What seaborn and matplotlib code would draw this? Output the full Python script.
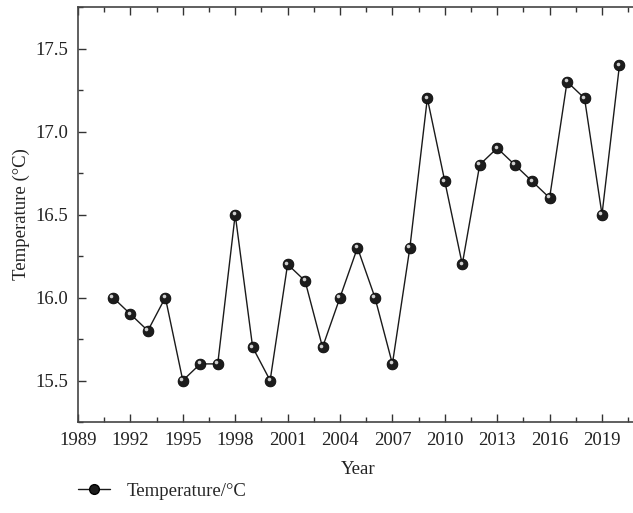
import matplotlib
matplotlib.use("Agg")
import matplotlib.pyplot as plt
import matplotlib.transforms as mtransforms
from matplotlib.ticker import MultipleLocator
from matplotlib.lines import Line2D
import seaborn as sns
import pandas as pd

years = list(range(1991, 2021))
temps = [16.0, 15.9, 15.8, 16.0, 15.5, 15.6, 15.6, 16.5, 15.7, 15.5,
         16.2, 16.1, 15.7, 16.0, 16.3, 16.0, 15.6, 16.3, 17.2, 16.7,
         16.2, 16.8, 16.9, 16.8, 16.7, 16.6, 17.3, 17.2, 16.5, 17.4]
series_name = "Temperature/°C"
df = pd.DataFrame({"Year": years, "Temp": temps})

sns.set_theme(style="ticks")
plt.rcParams['font.family'] = ['Liberation Serif', 'DejaVu Serif']
FS = 13.5
plt.rcParams['font.size'] = FS

fig = plt.figure(figsize=(6.33, 5.13), dpi=100)
ax = fig.add_axes([78/633, 91/513, 560/633, 415/513])

sns.lineplot(data=df, x="Year", y="Temp", ax=ax, color="#1a1a1a", lw=1.0,
             marker="o", markersize=7.8, markerfacecolor="#1c1c1c",
             markeredgecolor="#000000", markeredgewidth=0.5)
hl = mtransforms.offset_copy(ax.transData, fig=fig, x=-1.1, y=1.1, units='points')
ax.plot(df["Year"], df["Temp"], ls="none", marker="o", markersize=2.6,
        color="#d0d0d0", markeredgewidth=0, transform=hl)

ax.set_xlim(1989, 1989 + (638 - 78) / 52.4 * 3)
ax.set_ylim(15.25, 17.75)
ax.xaxis.set_major_locator(MultipleLocator(3))
ax.xaxis.set_minor_locator(MultipleLocator(1.5))
ax.yaxis.set_minor_locator(MultipleLocator(0.25))
ax.set_yticks([15.5, 16.0, 16.5, 17.0, 17.5])
ax.set_yticklabels(["15.5", "16.0", "16.5", "17.0", "17.5"])
ax.xaxis.set_major_formatter(matplotlib.ticker.FuncFormatter(lambda v, p: f"{int(round(v))}"))

ax.tick_params(which="major", direction="in", length=6, width=1, colors="#333333",
               labelcolor="#222222", labelsize=FS, top=True, right=False, pad=7)
ax.tick_params(which="minor", direction="in", length=3.5, width=1, colors="#333333",
               top=True, right=False)
for s in ["left", "bottom", "top"]:
    ax.spines[s].set_color("#444444")
    ax.spines[s].set_linewidth(1.2)
ax.spines["right"].set_visible(False)

ax.set_xlabel("Year", fontsize=FS, color="#222222", labelpad=9)
ax.set_ylabel("Temperature (°C)", fontsize=FS, color="#222222", labelpad=4)

handle = Line2D([], [], color="#1a1a1a", lw=1.0, marker="o", markersize=7,
                markerfacecolor="#1c1c1c", markeredgecolor="#000000")
fig.legend([handle], [series_name], loc="center left",
           bbox_to_anchor=(78/633, 1 - 491/513), frameon=False, fontsize=FS,
           borderpad=0, borderaxespad=0,
           handlelength=1.7, handletextpad=0.9)

fig.savefig("out.png", dpi=100)
